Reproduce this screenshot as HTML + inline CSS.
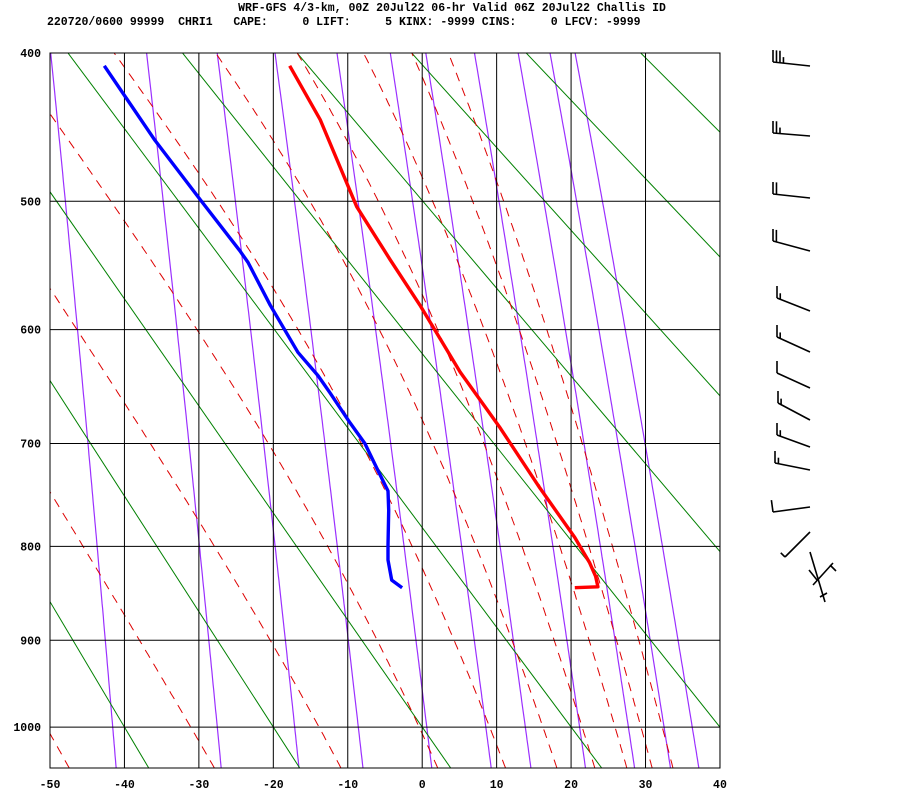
<!DOCTYPE html>
<html><head><meta charset="utf-8"><style>
body{margin:0;background:#fff;}
svg{display:block;}
text{font-family:"Liberation Mono",monospace;font-weight:bold;font-size:11.5px;fill:#000;}
</style></head><body>
<svg id="chart" width="900" height="800" viewBox="0 0 900 800" xmlns="http://www.w3.org/2000/svg">
<defs><clipPath id="plotclip"><rect x="50" y="53" width="670" height="715"/></clipPath></defs>
<text x="452" y="11" text-anchor="middle">WRF-GFS 4/3-km, 00Z 20Jul22 06-hr Valid 06Z 20Jul22 Challis ID</text>
<text x="47" y="25" xml:space="preserve">220720/0600 99999  CHRI1   CAPE:     0 LIFT:     5 KINX: -9999 CINS:     0 LFCV: -9999</text>
<g id="bg" clip-path="url(#plotclip)"></g>
<g id="grid"></g>
<g id="prof" clip-path="url(#plotclip)"></g>
<g id="labels"></g>
<g id="barbs"></g>
</svg>
<script>
// ---- data ----
const pressureTicks = [400,500,600,700,800,900,1000];
const tempTicks = [-50,-40,-30,-20,-10,0,10,20,30,40];
const tempP = [408,443,504,544,580,636,686,742,791,817,831,842,843];
const tempT = [-17.8,-13.7,-8.8,-4.3,-0.3,5.1,10.5,15.8,20.5,22.5,23.3,23.6,20.5];
const dewP = [408,457,499,537,546,580,619,639,654,681,700,726,745,764,799,814,835,843];
const dewT = [-42.7,-35.9,-29.8,-24.5,-23.4,-20.4,-16.7,-14.0,-12.4,-9.7,-7.7,-5.9,-4.6,-4.5,-4.6,-4.6,-4.1,-2.7];
const mixRatios = [0.1,0.4,1,2,4,7,10,16,24,32,40];
const dryThetaC = [-120,-100,-80,-60,-40,-20,0,20,40,60,80,100,120];
const moistStartT = [-47.4,-27.9,-10.9,2.1,11.2,18.1,23.2,27.5,30.9,33.7];
// wind barbs: tail, head, full, half
const barbTail = [[773,62],[773,133],[773,194],[773,241],[777,298],[777,337],[777,373],[778,403],[777,435],[775,463],[773,512],[785,557]];
const barbHead = [[810,66],[810,136],[810,198],[810,251],[810,311],[810,352],[810,388],[810,420],[810,447],[810,470],[810,507],[810,532]];
const barbFull = [3,2,2,2,1,1,1,1,1,1,1,0];
const barbHalf = [1,1,0,0,1,1,0,1,1,1,0,1];

// ---- scales ----
const K=0.286, P0k=Math.pow(400,K);
const yP = p => 53 + 405.5*(Math.pow(p,K)-P0k);
const xT = t => 50 + (t+50)*7.444;
const NS="http://www.w3.org/2000/svg";
function mk(tag, parent, attrs){const e=document.createElementNS(NS,tag);for(const k in attrs)e.setAttribute(k,attrs[k]);parent.appendChild(e);return e;}
const bg=document.getElementById('bg'), grid=document.getElementById('grid'), prof=document.getElementById('prof'), labels=document.getElementById('labels'), barbs=document.getElementById('barbs');
const pts = a => a.map(q=>q[0].toFixed(1)+','+q[1].toFixed(1)).join(' ');
const es = t => 6.112*Math.exp(17.67*t/(t+243.5));

mixRatios.forEach(w=>{
  const a=[];
  for(let p=1050;p>=395;p-=5){const e=w*p/(622+w);const L=Math.log(e/6.112);const td=243.5*L/(17.67-L);a.push([xT(td),yP(p)]);}
  const el=mk('polyline',bg,{points:pts(a),fill:'none',stroke:'#9b30ff','stroke-width':1.2});
  
  
});
dryThetaC.forEach(th=>{
  const T=th+273.15;const a=[];
  [390,1060].forEach(p=>a.push([xT(T*Math.pow(p/1000,K)-273.15),yP(p)]));
  const el=mk('polyline',bg,{points:pts(a),fill:'none',stroke:'#008000','stroke-width':1});
  
  
});
function dTdp(T,p){const Rd=287.04,cp=1005.7,Lv=2.501e6,eps=0.622;const e=es(T-273.15);const rs=eps*e/(p-e);
  return (Rd*T+Lv*rs)/(p*(cp+Lv*Lv*rs*eps/(Rd*T*T)));}
moistStartT.forEach(t0=>{
  let T=t0+273.15,p=1050;const a=[[xT(t0),yP(p)]];const dp=-2;
  while(p>396){const k1=dTdp(T,p);const k2=dTdp(T+k1*dp/2,p+dp/2);T+=k2*dp;p+=dp;a.push([xT(T-273.15),yP(p)]);}
  const el=mk('polyline',bg,{points:pts(a),fill:'none',stroke:'#dd0000','stroke-width':1,'stroke-dasharray':'9,7'});
  
  
});
mk('rect',grid,{x:50,y:53,width:670,height:715,fill:'none',stroke:'#000','stroke-width':1});
tempTicks.forEach(t=>{
  const el=mk('line',grid,{x1:xT(t),x2:xT(t),y1:53,y2:768,stroke:'#000','stroke-width':1});
  
  
  const tx=mk('text',labels,{x:xT(t),y:788,'text-anchor':'middle'});tx.textContent=t;
  
  
});
pressureTicks.forEach(p=>{
  const el=mk('line',grid,{x1:50,x2:720,y1:yP(p),y2:yP(p),stroke:'#000','stroke-width':1});
  
  
  const tx=mk('text',labels,{x:41,y:yP(p)+4,'text-anchor':'end'});tx.textContent=p;
  
  
});
const tl=mk('polyline',prof,{points:pts(tempP.map((p,i)=>[xT(tempT[i]),yP(p)])),fill:'none',stroke:'#ff0000','stroke-width':3.4,'stroke-linejoin':'round'});


const dl=mk('polyline',prof,{points:pts(dewP.map((p,i)=>[xT(dewT[i]),yP(p)])),fill:'none',stroke:'#0000ff','stroke-width':3.4,'stroke-linejoin':'round'});


barbTail.forEach((tp,i)=>{
  const hd=barbHead[i];const g=mk('g',barbs,{stroke:'#000','stroke-width':1.6,fill:'none'});
  
  
  mk('line',g,{x1:tp[0],y1:tp[1],x2:hd[0],y2:hd[1]});
  const dx=tp[0]-hd[0],dy=tp[1]-hd[1],L=Math.hypot(dx,dy);const ux=dx/L,uy=dy/L;
  let px=0,py=-1;
  if(i>=10){px=-uy;py=ux;}
  let s=0;
  for(let j=0;j<barbFull[i];j++,s+=3.5){const bx=tp[0]-ux*s,by=tp[1]-uy*s;mk('line',g,{x1:bx,y1:by,x2:bx+px*12,y2:by+py*12});}
  for(let j=0;j<barbHalf[i];j++,s+=3.5){const bx=tp[0]-ux*s,by=tp[1]-uy*s;mk('line',g,{x1:bx,y1:by,x2:bx+px*6,y2:by+py*6});}
});
const sg=mk('g',barbs,{stroke:'#000','stroke-width':1.6,fill:'none'});


[[810,552,825,602],[833,563,813,585],[830,565,836,571],[809,570,817,580],[820,597,827,593]].forEach(l=>mk('line',sg,{x1:l[0],y1:l[1],x2:l[2],y2:l[3]}));
</script>
</body></html>
